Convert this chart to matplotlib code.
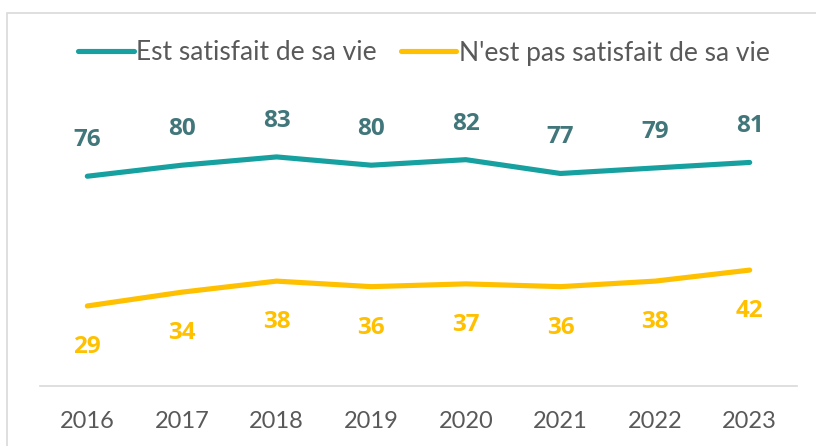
import matplotlib.pyplot as plt
from matplotlib.patches import Rectangle

# données
annees = ['2016', '2017', '2018', '2019', '2020', '2021', '2022', '2023']
satisfait = [76, 80, 83, 80, 82, 77, 79, 81]
pas_satisfait = [29, 34, 38, 36, 37, 36, 38, 42]

teal = '#17A0A0'
teal_txt = '#41767A'
jaune = '#FFC000'
gris = '#595959'

plt.rcParams['font.family'] = ['Lato', 'DejaVu Sans']

fig = plt.figure(figsize=(8.16, 4.46), dpi=100)
ax = fig.add_axes([40 / 816, 60 / 446, 757 / 816, 276 / 446])

x = range(len(annees))
ax.plot(x, satisfait, color=teal, lw=3.7, solid_capstyle='round',
        label='Est satisfait de sa vie')
ax.plot(x, pas_satisfait, color=jaune, lw=3.7, solid_capstyle='round',
        label="N'est pas satisfait de sa vie")

# étiquettes de valeurs (gras)
for i, v in enumerate(satisfait):
    ax.annotate(str(v), (i, v), xytext=(0, 26), textcoords='offset points',
                ha='center', va='center', fontsize=17.5, fontweight='bold',
                family='Open Sans', color=teal_txt)
for i, v in enumerate(pas_satisfait):
    ax.annotate(str(v), (i, v), xytext=(0, -29.5), textcoords='offset points',
                ha='center', va='center', fontsize=17.5, fontweight='bold',
                family='Open Sans', color=jaune)

ax.set_xlim(-0.5, len(annees) - 0.5)
ax.set_ylim(0, 100)
ax.set_xticks(list(x))
ax.set_xticklabels(annees, fontsize=17, color=gris)
ax.tick_params(axis='x', length=0, pad=18)
ax.set_yticks([])
for s in ['left', 'right', 'top']:
    ax.spines[s].set_visible(False)
ax.spines['bottom'].set_color('#D9D9D9')
ax.spines['bottom'].set_linewidth(1.2)

leg = fig.legend(loc='center', bbox_to_anchor=(424 / 816, 1 - 53 / 446),
                 ncol=2, frameon=False, fontsize=19, handlelength=2.1,
                 handletextpad=0.1, columnspacing=0.9)
for t in leg.get_texts():
    t.set_color(gris)

# cadre gris clair
fig.patches.append(Rectangle((7 / 816, -0.1), 1.2, 1 - 13 / 446 + 0.1,
                             transform=fig.transFigure, fill=False,
                             edgecolor='#D9D9D9', lw=1.2))

fig.savefig('out.png', dpi=100)
